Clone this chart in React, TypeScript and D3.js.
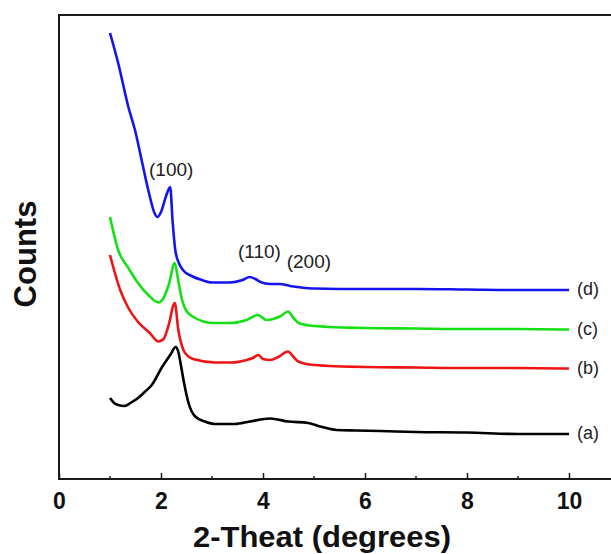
import React, { useRef, useEffect } from 'react';
import * as d3 from 'd3';

// 2-theta positions (degrees) and intensities (a.u.)
const thetaA = [1.0, 1.08, 1.16, 1.29, 1.4, 1.55, 1.7, 1.82, 2.01, 2.18, 2.29, 2.34, 2.4, 2.46, 2.54, 2.67, 2.86, 3.06, 3.45, 3.74, 4.14, 4.49, 4.89, 5.12, 5.44, 5.84, 6.3, 7, 8, 9, 10];
const countsA = [81, 76, 74, 73, 76, 81, 88, 94, 111, 124, 132, 127, 111, 94, 76, 62.5, 57.5, 55, 55, 57.5, 60.5, 57.5, 56, 52.5, 49, 48.5, 48, 47, 46.5, 45, 45];

const thetaB = [1.0, 1.2, 1.36, 1.55, 1.78, 1.95, 2.05, 2.15, 2.27, 2.34, 2.44, 2.55, 2.67, 3.06, 3.39, 3.68, 3.8, 3.91, 4.0, 4.14, 4.3, 4.49, 4.6, 4.69, 5.0, 6, 7, 8, 9, 10];
const countsB = [224, 189, 171, 157, 146, 137.5, 140, 154, 176, 149, 129, 122, 119.5, 116.5, 116.5, 119, 121, 124, 120, 119, 122, 127.5, 122, 117.5, 114, 112, 111.5, 111, 111, 110.5];

const thetaC = [1.0, 1.16, 1.36, 1.55, 1.75, 1.95, 2.05, 2.15, 2.27, 2.33, 2.4, 2.5, 2.67, 2.8, 3.0, 3.35, 3.68, 3.9, 4.07, 4.2, 4.35, 4.49, 4.6, 4.7, 5.0, 6, 7, 8, 9, 10];
const countsC = [262, 229, 211, 196, 184, 176.5, 181, 194, 216, 201, 182, 168, 161, 158, 156, 156, 159, 164, 159, 160, 163, 167.5, 161, 156, 153, 151, 150.5, 150, 150, 149.5];

const thetaD = [1.0, 1.16, 1.36, 1.49, 1.62, 1.75, 1.88, 1.93, 2.0, 2.1, 2.18, 2.23, 2.28, 2.35, 2.43, 2.6, 2.8, 3.0, 3.35, 3.6, 3.74, 3.85, 3.95, 4.14, 4.33, 4.53, 4.75, 5.0, 6, 7, 8, 9, 10];
const countsD = [446, 416, 372, 349, 319, 289, 265, 262, 267, 283, 292, 256, 229, 216, 209, 203, 199, 196.5, 196.5, 199, 202, 200, 197, 195, 195, 193, 191.5, 190.5, 190, 190, 189.5, 189, 189];

const seriesNames = ['(a)', '(b)', '(c)', '(d)'];
const seriesColors = ['#000000', '#ee1414', '#14e014', '#1414ee'];

const peakLabels = ['(100)', '(110)', '(200)'];
const peakTheta = [2.2, 3.93, 4.9];
const peakCounts = [303, 221, 211];

const xTicks = [0, 2, 4, 6, 8, 10];
const xMinorTicks = [1, 3, 5, 7, 9];

const FONT = '"Liberation Sans", Arial, Helvetica, sans-serif';

const XrdChart = () => {
  const svgRef = useRef<SVGSVGElement>(null);

  useEffect(() => {
    const svg = d3.select(svgRef.current);
    svg.selectAll('*').remove();

    const width = 611;
    const height = 554;
    const left = 59;
    const top = 15;
    const bottom = 479;

    const x = d3.scaleLinear().domain([0, 11]).range([left, left + 11 * 51]);
    const y = d3.scaleLinear().domain([0, 464]).range([bottom, top]);

    svg.attr('width', width).attr('height', height);

    const series = [
      { theta: thetaA, counts: countsA },
      { theta: thetaB, counts: countsB },
      { theta: thetaC, counts: countsC },
      { theta: thetaD, counts: countsD },
    ];

    const line = d3.line<[number, number]>()
      .x(d => x(d[0]))
      .y(d => y(d[1]))
      .curve(d3.curveMonotoneX);

    series.forEach((s, i) => {
      const pts = s.theta.map((t, j) => [t, s.counts[j]] as [number, number]);
      svg.append('path')
        .attr('d', line(pts))
        .attr('fill', 'none')
        .attr('stroke', seriesColors[i])
        .attr('stroke-width', 2.6)
        .attr('stroke-linejoin', 'round');

      const last = pts[pts.length - 1];
      svg.append('text')
        .attr('x', x(10) + 8)
        .attr('y', y(last[1]) + 5)
        .attr('font-family', FONT)
        .attr('font-size', 18)
        .attr('fill', '#222')
        .text(seriesNames[i]);
    });

    // peak annotations
    peakLabels.forEach((lbl, i) => {
      svg.append('text')
        .attr('x', x(peakTheta[i]))
        .attr('y', y(peakCounts[i]))
        .attr('text-anchor', 'middle')
        .attr('font-family', FONT)
        .attr('font-size', 19)
        .attr('fill', '#222')
        .text(lbl);
    });

    // frame
    svg.append('rect')
      .attr('x', x(0))
      .attr('y', top)
      .attr('width', x(11) - x(0))
      .attr('height', bottom - top)
      .attr('fill', 'none')
      .attr('stroke', '#1a1a1a')
      .attr('stroke-width', 2);

    // bottom axis, ticks pointing inward
    const xAxis = svg.append('g')
      .attr('transform', `translate(0,${bottom})`)
      .call(d3.axisBottom(x).tickValues(xTicks).tickSize(-6).tickPadding(14).tickFormat(d3.format('d')));
    xAxis.select('.domain').remove();
    xAxis.selectAll('line').attr('stroke', '#1a1a1a').attr('stroke-width', 1.5);
    xAxis.selectAll('text')
      .attr('font-family', FONT)
      .attr('font-size', 23)
      .attr('font-weight', 'bold')
      .attr('fill', '#111');

    svg.append('g')
      .selectAll('line')
      .data(xMinorTicks)
      .join('line')
      .attr('x1', d => x(d))
      .attr('x2', d => x(d))
      .attr('y1', bottom)
      .attr('y2', bottom - 3)
      .attr('stroke', '#1a1a1a')
      .attr('stroke-width', 1.5);

    // axis titles
    svg.append('text')
      .attr('x', 322)
      .attr('y', 547)
      .attr('text-anchor', 'middle')
      .attr('font-family', FONT)
      .attr('font-size', 29)
      .attr('font-weight', 'bold')
      .attr('fill', '#111')
      .attr('textLength', 258)
      .attr('lengthAdjust', 'spacingAndGlyphs')
      .text('2-Theat (degrees)');

    svg.append('text')
      .attr('transform', 'translate(36,254) rotate(-90)')
      .attr('text-anchor', 'middle')
      .attr('font-family', FONT)
      .attr('font-size', 31)
      .attr('font-weight', 'bold')
      .attr('fill', '#111')
      .text('Counts');
  }, []);

  return <svg ref={svgRef} style={{ display: 'block' }}></svg>;
};

export default function App() {
  return (
    <div style={{ position: 'absolute', left: 0, top: 0, width: 611, height: 554, overflow: 'hidden', background: '#fff' }}>
      <XrdChart />
    </div>
  );
}
